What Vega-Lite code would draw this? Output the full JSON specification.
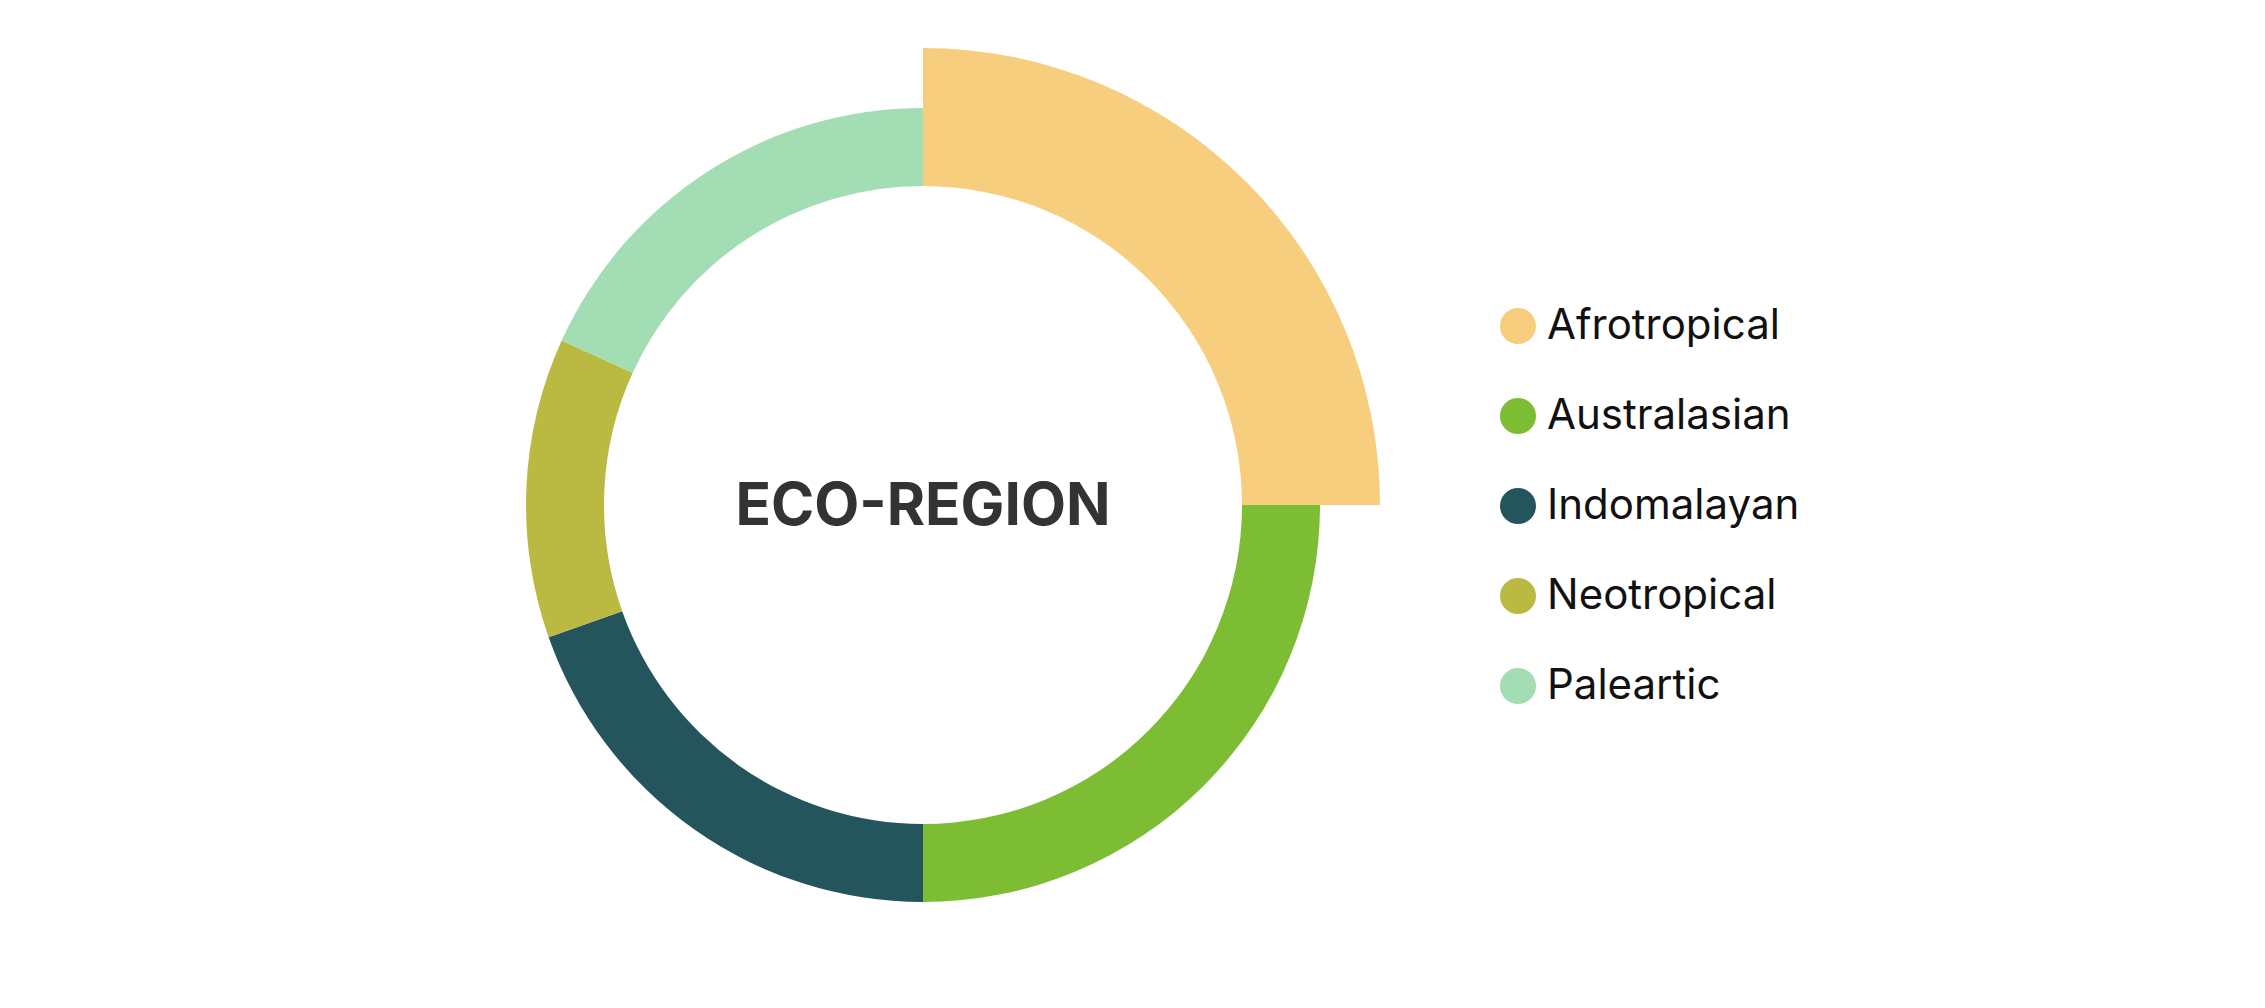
{
  "$schema": "https://vega.github.io/schema/vega-lite/v6.json",
  "width": 1846,
  "height": 1010,
  "padding": 0,
  "autosize": {"type": "pad"},
  "background": "#ffffff",
  "config": {"view": {"stroke": null}, "font": "Inter"},
  "data": {
    "values": [
      {"region": "Afrotropical", "share": 25},
      {"region": "Australasian", "share": 25},
      {"region": "Indomalayan", "share": 19.6},
      {"region": "Neotropical", "share": 12.2},
      {"region": "Paleartic", "share": 18.2}
    ]
  },
  "layer": [
    {
      "transform": [
        {"stack": "share", "groupby": [], "sort": [{"field": "region", "order": "ascending"}], "as": ["s0", "s1"]},
        {"filter": "datum.region !== 'Afrotropical'"}
      ],
      "mark": {"type": "arc", "radius": 397, "radius2": 319},
      "encoding": {
        "theta": {"field": "s0", "type": "quantitative", "scale": {"domain": [0, 100]}, "stack": null},
        "theta2": {"field": "s1"},
        "color": {
          "field": "region",
          "type": "nominal",
          "scale": {
            "domain": ["Afrotropical", "Australasian", "Indomalayan", "Neotropical", "Paleartic"],
            "range": ["#F7CE7D", "#7CBD33", "#24555C", "#BAB942", "#A3DDB3"]
          },
          "legend": {
            "title": null,
            "orient": "none",
            "legendX": 1497,
            "legendY": 305,
            "padding": 0,
            "symbolType": "circle",
            "symbolSize": 1296,
            "symbolStrokeWidth": 0,
            "labelFont": "Inter",
            "labelFontSize": 42,
            "labelColor": "#111111",
            "labelOffset": 8,
            "rowPadding": 48,
            "labelLimit": 600
          }
        }
      }
    },
    {
      "transform": [
        {"stack": "share", "groupby": [], "sort": [{"field": "region", "order": "ascending"}], "as": ["s0", "s1"]},
        {"filter": "datum.region === 'Afrotropical'"}
      ],
      "mark": {"type": "arc", "radius": 457, "radius2": 319},
      "encoding": {
        "theta": {"field": "s0", "type": "quantitative", "scale": {"domain": [0, 100]}, "stack": null},
        "theta2": {"field": "s1"},
        "color": {"field": "region", "type": "nominal"}
      }
    },
    {
      "data": {"values": [{"label": "ECO-REGION"}]},
      "mark": {
        "type": "text",
        "font": "Inter",
        "fontSize": 58.5,
        "fontWeight": "bold",
        "color": "#333333",
        "align": "center",
        "baseline": "middle",
        "dy": 2
      },
      "encoding": {"text": {"field": "label", "type": "nominal"}}
    }
  ]
}
